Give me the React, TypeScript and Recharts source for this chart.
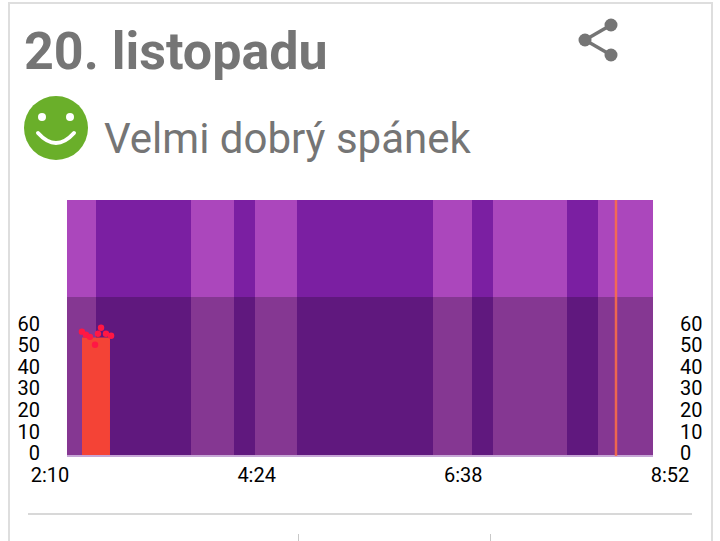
import React from "react";
import {
  ComposedChart,
  XAxis,
  YAxis,
  ReferenceArea,
  ReferenceLine,
  Area,
  Line,
} from "recharts";

const TITLE = "20. listopadu";
const SUBTITLE = "Velmi dobrý spánek";
const timeTicks = [130, 264, 398, 532];
const timeLabels: Record<number, string> = { 130: "2:10", 264: "4:24", 398: "6:38", 532: "8:52" };
const hrTicks = [0, 10, 20, 30, 40, 50, 60];

// sleep phases, in minutes from midnight on the tick scale
const phaseStarts = [141.02, 159.83, 221.42, 249.3, 262.92, 290.15, 378.33, 403.62, 417.24, 465.22, 485.32];
const phaseEnds = [159.83, 221.42, 249.3, 262.92, 290.15, 378.33, 403.62, 417.24, 465.22, 485.32, 520.98];
const phaseDeep = [false, true, false, true, false, true, false, true, false, true, false];

const barSeries = [
  { t: 150.75, v: 55 },
  { t: 168.9, v: 55 },
];
const hrTimes = [150.7, 153.3, 155.9, 159.2, 161.1, 163.1, 166.3, 169.6];
const hrValues = [57.7, 56.3, 55.3, 51.6, 56.7, 59.5, 56.7, 55.8];
const hrSeries = hrTimes.map((t, i) => ({ t, v: hrValues[i] }));
const nowMarker = 496.98;
const shadeStart = 141.02;
const shadeEnd = 520.98;
const shadeTop = 73.8;
const yMax = 118.8;

const font = "Roboto, sans-serif";

export default function App() {
  return (
    <div style={{ position: "absolute", left: 0, top: 0, width: 720, height: 541, overflow: "hidden", background: "#fff", fontFamily: font }}>
      <div style={{ position: "absolute", left: 8, top: 2, width: 701, height: 560, border: "2px solid #dedede", borderBottom: "none" }} />
      <div style={{ position: "absolute", left: 24, top: 22, fontSize: 52, fontWeight: 700, color: "#757575", lineHeight: "60px", whiteSpace: "nowrap" }}>{TITLE}</div>
      <svg style={{ position: "absolute", left: 570, top: 10 }} width="56" height="60">
        <g fill="#757575" stroke="#757575">
          <line x1="41" y1="15" x2="15" y2="30" strokeWidth="3.5" />
          <line x1="15" y1="30" x2="41" y2="45" strokeWidth="3.5" />
          <circle cx="41" cy="15" r="6.5" strokeWidth="0" />
          <circle cx="15" cy="30" r="6.5" strokeWidth="0" />
          <circle cx="41" cy="45" r="6.5" strokeWidth="0" />
        </g>
      </svg>
      <svg style={{ position: "absolute", left: 24, top: 96 }} width="64" height="64">
        <circle cx="32" cy="32" r="32" fill="#6aaf2a" />
        <circle cx="18" cy="21" r="4" fill="#fff" />
        <circle cx="46" cy="21" r="4" fill="#fff" />
        <path d="M14 37 Q32 57 50 37" fill="none" stroke="#fff" strokeWidth="4" strokeLinecap="round" />
      </svg>
      <div style={{ position: "absolute", left: 104, top: 113, fontSize: 42, color: "#757575", lineHeight: "52px", whiteSpace: "nowrap" }}>{SUBTITLE}</div>

      <div style={{ position: "absolute", left: 28, top: 513, width: 664, height: 2, background: "#d8d8d8" }} />
      <div style={{ position: "absolute", left: 298, top: 534, width: 1, height: 10, background: "#c8c8c8" }} />
      <div style={{ position: "absolute", left: 490, top: 534, width: 1, height: 10, background: "#c8c8c8" }} />

      <div style={{ position: "absolute", left: 0, top: 0 }}>
        <ComposedChart
          width={720}
          height={500}
          margin={{ top: 200, right: 0, bottom: 0, left: 0 }}
          data={hrSeries}
        >
          <XAxis
            dataKey="t"
            type="number"
            domain={[130, 532]}
            ticks={timeTicks}
            tickFormatter={(v: number) => timeLabels[v]}
            axisLine={false}
            tickLine={false}
            interval={0}
            allowDataOverflow
            tick={{ fill: "#000", fontSize: 20, fontFamily: font }}
            tickMargin={6}
            height={44}
          />
          <YAxis
            yAxisId="left"
            type="number"
            domain={[0, yMax]}
            ticks={hrTicks}
            axisLine={false}
            tickLine={false}
            interval={0}
            width={50}
            tickMargin={4}
            tick={{ fill: "#000", fontSize: 20, fontFamily: font, dy: -3 }}
          />
          <YAxis
            yAxisId="right"
            orientation="right"
            type="number"
            domain={[0, yMax]}
            ticks={hrTicks}
            axisLine={false}
            tickLine={false}
            interval={0}
            width={50}
            tickMargin={4}
            tick={{ fill: "#000", fontSize: 20, fontFamily: font, dy: -3 }}
          />
          {phaseStarts.map((s, i) => (
            <ReferenceArea
              key={i}
              yAxisId="left"
              x1={s}
              x2={phaseEnds[i]}
              y1={0}
              y2={yMax}
              fill={phaseDeep[i] ? "#7b1fa2" : "#ab47bc"}
              fillOpacity={1}
              stroke="none"
            />
          ))}
          <ReferenceArea
            yAxisId="left"
            x1={shadeStart}
            x2={shadeEnd}
            y1={0}
            y2={shadeTop}
            fill="#000"
            fillOpacity={0.22}
            stroke="none"
          />
          <ReferenceLine
            yAxisId="left"
            segment={[{ x: shadeStart, y: 0 }, { x: shadeEnd, y: 0 }]}
            stroke="#c6a6d6"
            strokeWidth={2}
          />
          <ReferenceLine yAxisId="left" x={nowMarker} stroke="#ff7043" strokeOpacity={0.85} strokeWidth={2.5} />
          <Area
            yAxisId="left"
            data={barSeries}
            dataKey="v"
            type="linear"
            stroke="none"
            fill="#f44336"
            fillOpacity={1}
            dot={false}
            activeDot={false}
            isAnimationActive={false}
          />
          <Line
            yAxisId="left"
            data={hrSeries}
            dataKey="v"
            type="linear"
            stroke="none"
            dot={{ r: 3.2, fill: "#ff1744", stroke: "none" }}
            activeDot={false}
            isAnimationActive={false}
          />
          <Line
            yAxisId="right"
            data={hrSeries}
            dataKey="v"
            type="linear"
            stroke="none"
            dot={false}
            activeDot={false}
            isAnimationActive={false}
          />
        </ComposedChart>
      </div>
    </div>
  );
}
